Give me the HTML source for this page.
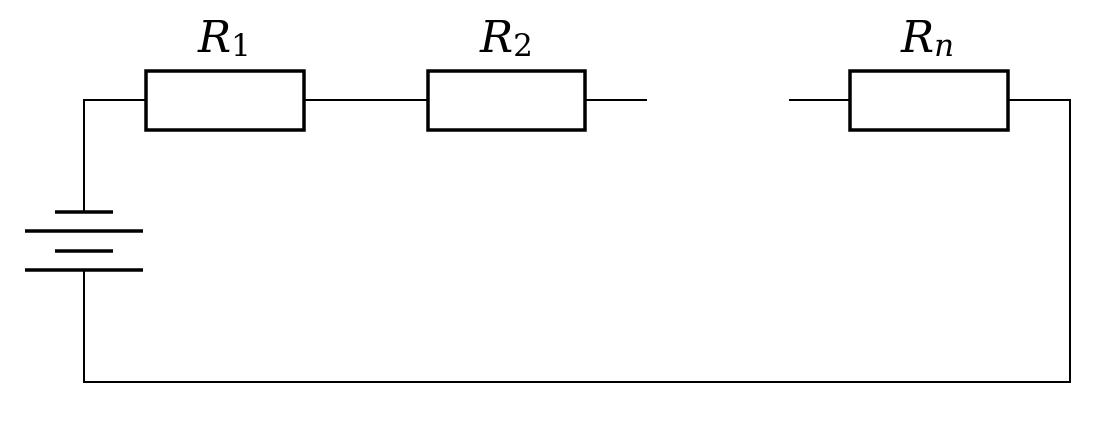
<!DOCTYPE html>
<html><head><style>body{margin:0;background:#fff}svg{display:block}</style></head><body>
<svg width="1110" height="432" viewBox="0 0 1110 432" xmlns="http://www.w3.org/2000/svg">
<g stroke="#000" fill="none" stroke-width="2">
<polyline points="146,100 84,100 84,212"/>
<polyline points="84,270 84,382 1070,382 1070,100 1008,100"/>
<line x1="304" y1="100" x2="428" y2="100"/>
<line x1="585" y1="100" x2="647" y2="100"/>
<line x1="789" y1="100" x2="850" y2="100"/>
</g>
<g stroke="#000" fill="none" stroke-width="3.5">
<rect x="146" y="71" width="158" height="59"/>
<rect x="428" y="71" width="157" height="59"/>
<rect x="850" y="71" width="158" height="59"/>
<line x1="55" y1="212" x2="113" y2="212"/>
<line x1="25" y1="231" x2="143" y2="231"/>
<line x1="55" y1="251" x2="113" y2="251"/>
<line x1="25" y1="270" x2="143" y2="270"/>
</g>
<g font-family="'DejaVu Serif','Liberation Serif',serif" font-size="44" fill="#000">
<text x="198" y="52"><tspan font-style="italic">R</tspan><tspan font-size="31" dy="4">1</tspan></text>
<text x="480" y="52"><tspan font-style="italic">R</tspan><tspan font-size="31" dy="4">2</tspan></text>
<text x="901" y="52"><tspan font-style="italic">R</tspan><tspan font-size="31" dy="4" font-style="italic">n</tspan></text>
</g>
</svg>
</body></html>
